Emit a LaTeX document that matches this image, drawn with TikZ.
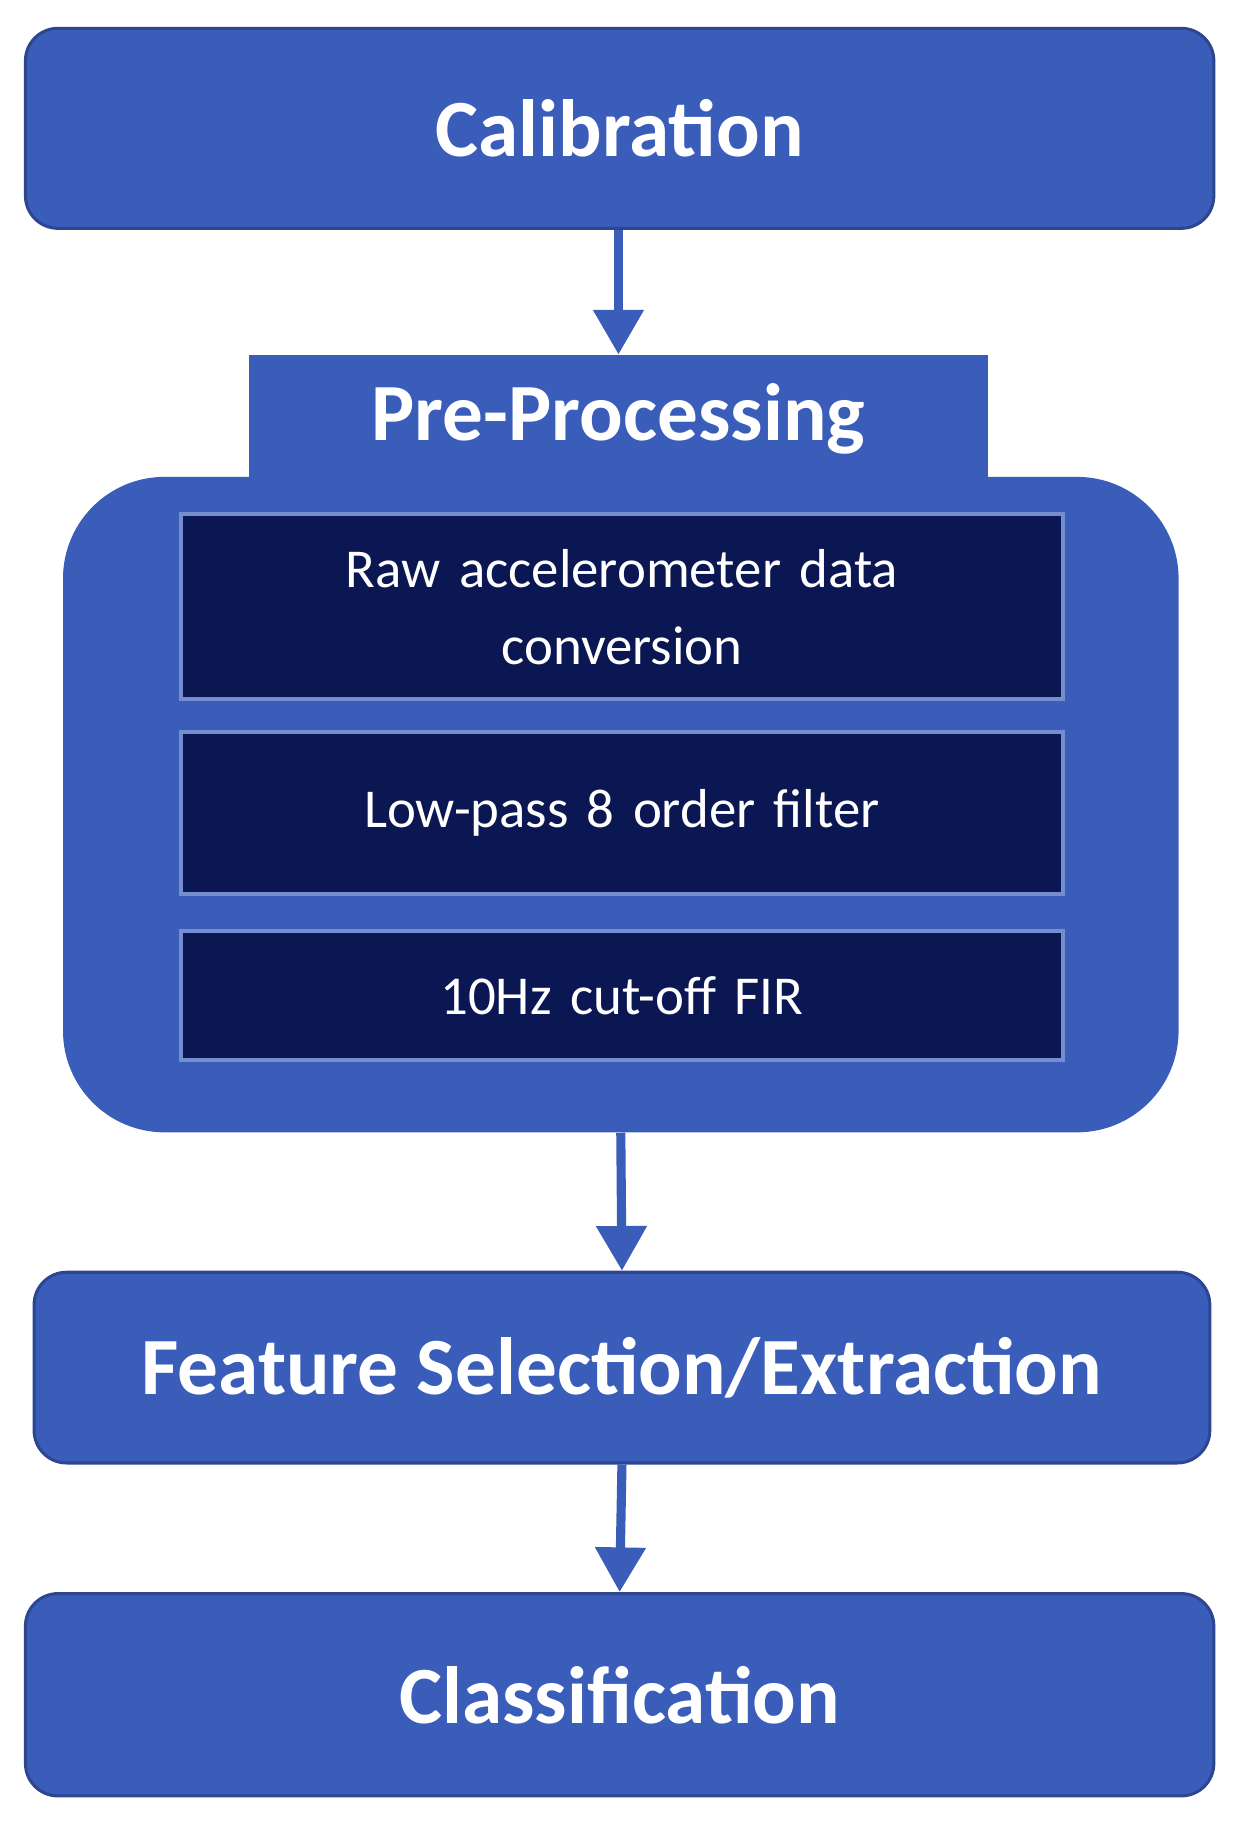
\documentclass[tikz,border=0pt]{standalone}
\usepackage{fontspec}
\setmainfont{Carlito}
\usetikzlibrary{arrows.meta,positioning}
\definecolor{stageblue}{HTML}{3A5DBA}
\definecolor{stageedge}{HTML}{2C4690}
\definecolor{stepnavy}{HTML}{0B1752}
\begin{document}
\begin{tikzpicture}[x=0.02cm,y=-0.02cm]
\tikzset{
    % main stages
    stage/.style={
           rectangle,
           rounded corners=16pt,
           fill=stageblue,
           draw=stageedge, line width=1.5pt,
           text=white,
           font=\fontsize{40}{44}\selectfont\bfseries},
    % inner steps
    substep/.style={
           rectangle,
           fill=stepnavy,
           draw=stageblue!70!white, line width=2pt,
           minimum width=763*0.02cm,
           text=white, text width=700*0.02cm, align=center,
           font=\fontsize{27}{38}\selectfont},
    % arrow style
    flow/.style={
           draw=stageblue,
           line width=4.5pt,
           -{Triangle[length=22pt,width=24pt]}}
}
\useasboundingbox (0,0) rectangle (1080,1583);
 %stages
 \node[stage, minimum width=1028*0.02cm, minimum height=173*0.02cm] (calib) at (536,111) {Calibration};
 \node[rectangle, rounded corners=50pt, fill=stageblue, minimum width=965*0.02cm,
   minimum height=567*0.02cm] (pre) at (537,696) {};
 \node[rectangle, fill=stageblue, text=white, minimum width=640*0.02cm,
   minimum height=110*0.02cm, font=\fontsize{40}{44}\selectfont\bfseries] (pretab) at (535,362) {Pre-Processing};
 % steps inside pre-processing
 \node[substep, minimum height=160*0.02cm] (raw) at (538,525) {Raw accelerometer data\\conversion};
 \node[substep, minimum height=140*0.02cm] (lowpass) at (538,703) {Low-pass 8 order filter};
 \node[substep, minimum height=112*0.02cm] (fir) at (538,861) {10Hz cut-off FIR};
 \node[stage, minimum width=1017*0.02cm, minimum height=165*0.02cm] (feat) at (538,1183) {Feature Selection/Extraction};
 \node[stage, minimum width=1028*0.02cm, minimum height=175*0.02cm] (classif) at (536,1466) {Classification};
 % connectors
 \draw[flow] (calib.south -| pretab.north) -- (pretab.north);
 \draw[flow] (pre.south) -- (feat.north);
 \draw[flow] (feat.south) -- (classif.north);
\end{tikzpicture}
\end{document}
